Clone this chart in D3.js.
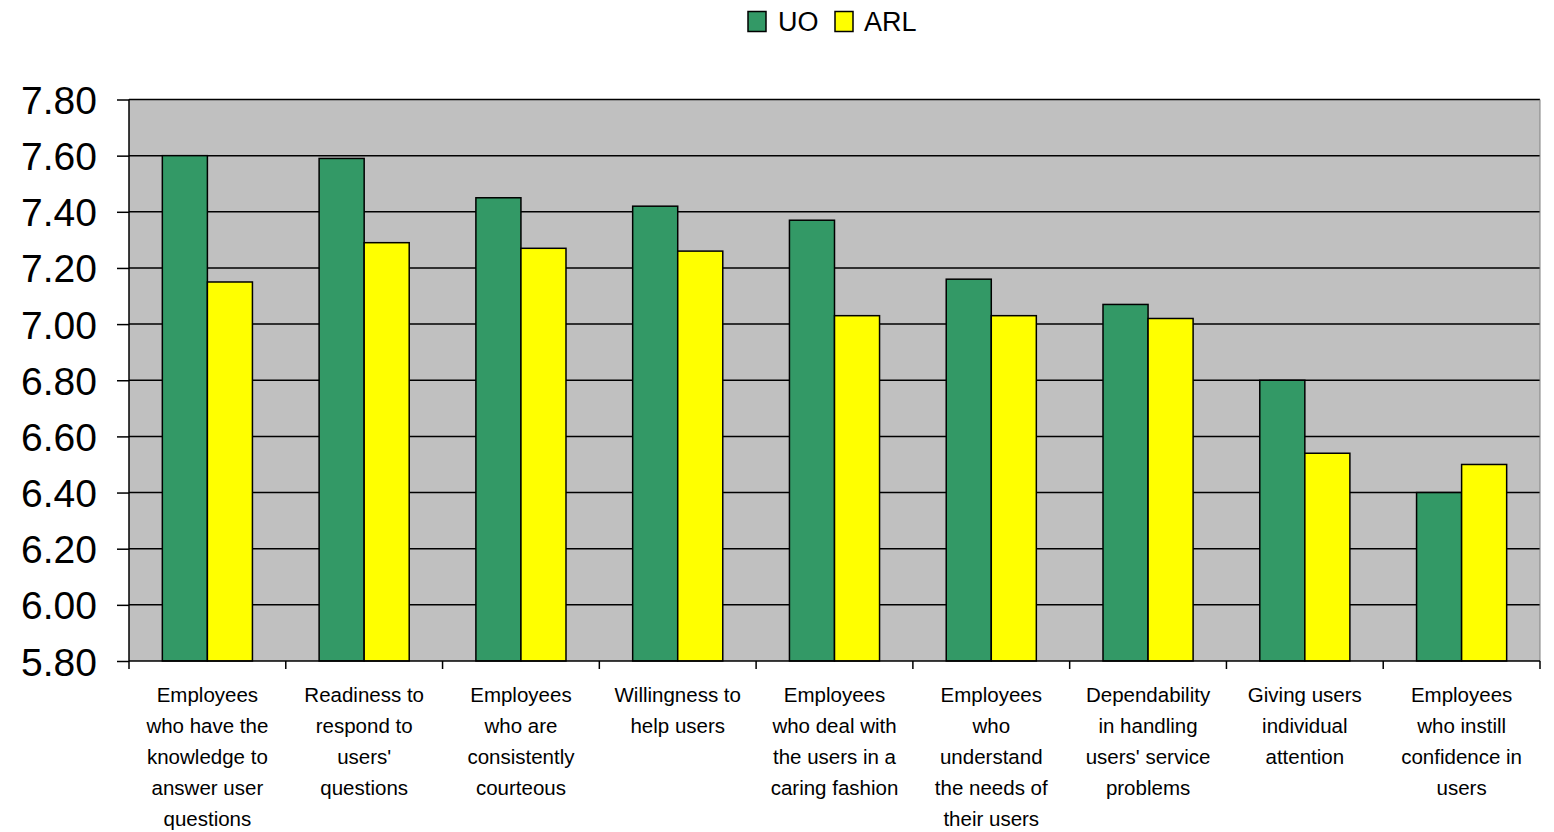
<!DOCTYPE html>
<html><head><meta charset="utf-8">
<script src="https://cdn.jsdelivr.net/npm/d3@7"></script>
<style>body{margin:0;background:#fff;}svg{display:block;font-family:"Liberation Sans",Arial,sans-serif;}</style>
</head><body>
<svg id="c" width="1554" height="832"></svg>
<script>
const categories = [
  ["Employees","who have the","knowledge to","answer user","questions"],
  ["Readiness to","respond to","users'","questions"],
  ["Employees","who are","consistently","courteous"],
  ["Willingness to","help users"],
  ["Employees","who deal with","the users in a","caring fashion"],
  ["Employees","who","understand","the needs of","their users"],
  ["Dependability","in handling","users' service","problems"],
  ["Giving users","individual","attention"],
  ["Employees","who instill","confidence in","users"]
];
const seriesNames = ["UO","ARL"];
const uoValues  = [7.60, 7.59, 7.45, 7.42, 7.37, 7.16, 7.07, 6.80, 6.40];
const arlValues = [7.15, 7.29, 7.27, 7.26, 7.03, 7.03, 7.02, 6.54, 6.50];
const yTicks = [5.8,6.0,6.2,6.4,6.6,6.8,7.0,7.2,7.4,7.6,7.8];
const colors = ["#339966","#FFFF00"];

const svg = d3.select("#c");
const L=129, R=1540, T=99.5, B=661;
const idx = categories.map((d,i)=>i);
const x = d3.scaleBand().domain(idx).range([L,R]).paddingInner(0).paddingOuter(0);
const y = d3.scaleLinear().domain([5.8,7.8]).range([B,T]);
const inner = d3.scaleBand().domain([0,1]).range([0,x.bandwidth()]).paddingInner(0).paddingOuter(0.74);

svg.append("rect").attr("x",L).attr("y",T).attr("width",R-L).attr("height",B-T).attr("fill","#C0C0C0");

// gridlines
svg.append("g").selectAll("line").data(yTicks.slice(1)).join("line")
  .attr("x1",L).attr("x2",R).attr("y1",d=>y(d)).attr("y2",d=>y(d))
  .attr("stroke","#000").attr("stroke-width",1.5);
svg.append("line").attr("x1",R).attr("x2",R).attr("y1",T).attr("y2",B).attr("stroke","#808080").attr("stroke-width",1);

// bars
const series=[uoValues,arlValues];
series.forEach((vals,s)=>{
  svg.append("g").selectAll("rect").data(vals).join("rect")
    .attr("x",(d,i)=>x(i)+inner(s))
    .attr("y",d=>y(d))
    .attr("width",inner.bandwidth())
    .attr("height",d=>B-y(d))
    .attr("fill",colors[s]).attr("stroke","#000").attr("stroke-width",1.5);
});

// y axis
const ya = svg.append("g").attr("transform",`translate(${L},0)`)
  .call(d3.axisLeft(y).tickValues(yTicks).tickFormat(d3.format(".2f")).tickSize(12).tickPadding(20));
ya.select(".domain").attr("stroke","#000").attr("stroke-width",1.5).attr("d",`M0,${T}V${B}`);
ya.selectAll(".tick line").attr("stroke","#000").attr("stroke-width",1.5);
ya.selectAll(".tick text").attr("font-size","39px").attr("fill","#000").attr("font-family","Liberation Sans, Arial, sans-serif").attr("dy","0.36em");

// x axis
const xa = svg.append("g").attr("transform",`translate(0,${B})`);
xa.append("line").attr("x1",L).attr("x2",R).attr("stroke","#000").attr("stroke-width",1.5);
const bounds = idx.map(i=>x(i)).concat([R]);
xa.selectAll("line.t").data(bounds).join("line").attr("class","t")
  .attr("x1",d=>d).attr("x2",d=>d).attr("y1",0).attr("y2",8).attr("stroke","#000").attr("stroke-width",1.5);

const labels = svg.append("g");
categories.forEach((lines,i)=>{
  const t = labels.append("text").attr("x",x(i)+x.bandwidth()/2).attr("y",702)
    .attr("text-anchor","middle").attr("font-size","20.5px").attr("fill","#000");
  lines.forEach((ln,j)=>{
    t.append("tspan").attr("x",x(i)+x.bandwidth()/2).attr("y",702+j*31).text(ln);
  });
});

// legend
const lg = svg.append("g");
const legendX=[748,835], textX=[778,864];
seriesNames.forEach((n,s)=>{
  lg.append("rect").attr("x",legendX[s]).attr("y",11.5).attr("width",18).attr("height",20)
    .attr("fill",colors[s]).attr("stroke","#000").attr("stroke-width",1.5);
  lg.append("text").attr("x",textX[s]).attr("y",31).attr("font-size","27px").attr("fill","#000").text(n);
});
</script>
</body></html>
